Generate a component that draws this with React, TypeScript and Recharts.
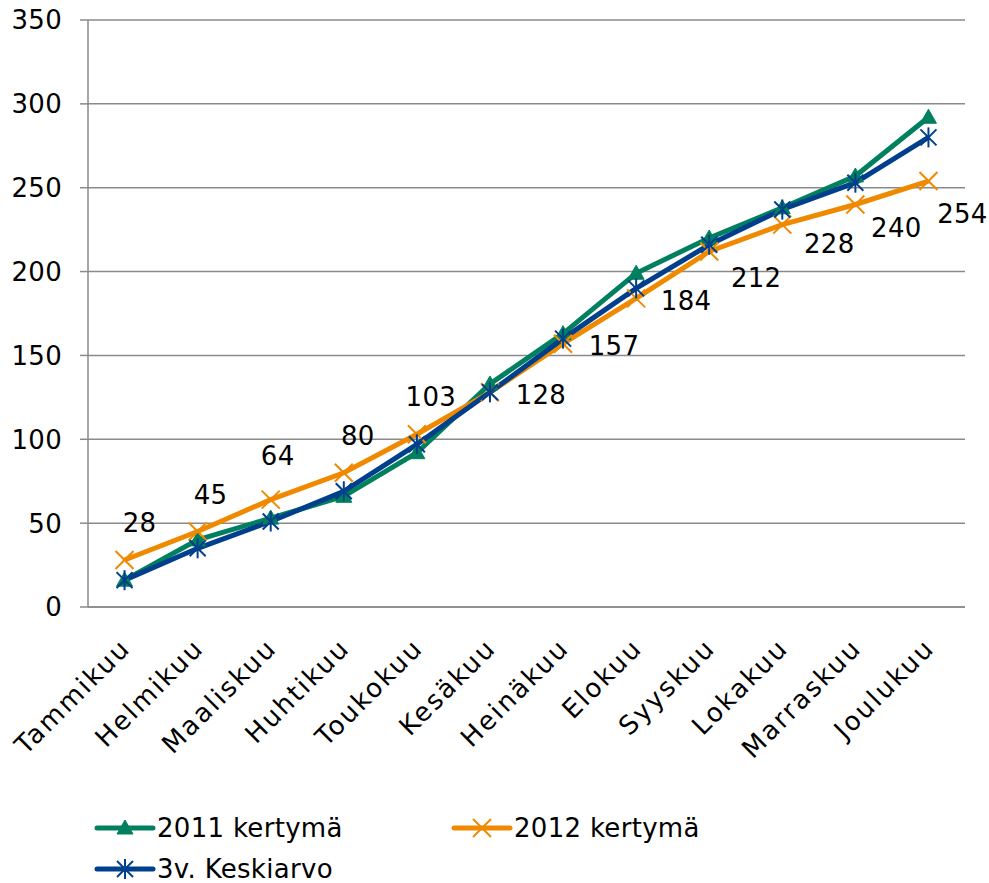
import React from 'react';
import { LineChart, Line, XAxis, YAxis, CartesianGrid, Legend, LabelList } from 'recharts';

const months = ['Tammikuu', 'Helmikuu', 'Maaliskuu', 'Huhtikuu', 'Toukokuu', 'Kesäkuu', 'Heinäkuu', 'Elokuu', 'Syyskuu', 'Lokakuu', 'Marraskuu', 'Joulukuu'];
const kertyma2011 = [16, 40, 53, 66, 92, 133, 163, 199, 220, 238, 257, 292];
const kertyma2012 = [28, 45, 64, 80, 103, 128, 157, 184, 212, 228, 240, 254];
const keskiarvo3v = [16, 35, 51, 69, 97, 128, 160, 190, 216, 237, 253, 280];
const yTicks = [0, 50, 100, 150, 200, 250, 300, 350];
const monthBoundaries = [0, 1, 2, 3, 4, 5, 6, 7, 8, 9, 10, 11, 12];
const seriesNames = ['2011 kertymä', '2012 kertymä', '3v. Keskiarvo'];

// label offsets (style only)
const labelDx = [15, 13, 7, 14, 14, 51, 51, 50, 47, 47, 41, 34];
const labelDy = [-37, -37, -44, -37, -38, 2, 2, 2, 26, 19, 23, 33];

const GREEN = '#00805E';
const ORANGE = '#EF8A00';
const BLUE = '#003F8C';
const GRID = '#8A8A8A';
const FONT = '"DejaVu Sans", Verdana, sans-serif';
const FS = 26;
const LS = 0.3;
const FS_X = 26;
const LS_X = 2.2;

const data = months.map((m, i) => ({
  month: m,
  k2011: kertyma2011[i],
  k2012: kertyma2012[i],
  avg: keskiarvo3v[i],
}));

const Tri = ({ cx, cy, color }: any) => (
  <polygon points={`${cx},${cy - 8} ${cx + 8},${cy + 6} ${cx - 8},${cy + 6}`} fill={color} stroke={color} strokeWidth={1} />
);
const Cross = ({ cx, cy, color }: any) => (
  <g stroke={color} strokeWidth={2}>
    <line x1={cx - 9} y1={cy - 9} x2={cx + 9} y2={cy + 9} />
    <line x1={cx - 9} y1={cy + 9} x2={cx + 9} y2={cy - 9} />
  </g>
);
const Star = ({ cx, cy, color }: any) => (
  <g stroke={color} strokeWidth={2}>
    <line x1={cx - 8} y1={cy - 8} x2={cx + 8} y2={cy + 8} />
    <line x1={cx - 8} y1={cy + 8} x2={cx + 8} y2={cy - 8} />
    <line x1={cx} y1={cy - 10} x2={cx} y2={cy + 10} />
  </g>
);

const XTick = ({ x, y, payload }: any) => (
  <g transform={`translate(${x + 2},${y + 37})`}>
    <text transform="rotate(-45)" textAnchor="end" dy="0.3em" fontFamily={FONT} fontSize={FS_X} letterSpacing={LS_X} fill="#000">
      {payload.value}
    </text>
  </g>
);

const YTick = ({ x, y, payload }: any) => (
  <text x={x} y={y} textAnchor="end" dy="0.36em" fontFamily={FONT} fontSize={FS} letterSpacing={LS} fill="#000">
    {payload.value}
  </text>
);

const renderLabel = (props: any) => {
  const { x, y, value, index } = props;
  return (
    <text key={`lbl-${index}`} x={x + labelDx[index]} y={y + labelDy[index]} textAnchor="middle" dy="0.36em" fontFamily={FONT} fontSize={FS} letterSpacing={LS} fill="#000">
      {value}
    </text>
  );
};

const LegendContent = () => {
  const items = [
    { name: seriesNames[0], color: GREEN, Marker: Tri, x: 97, y: 28 },
    { name: seriesNames[1], color: ORANGE, Marker: Cross, x: 454, y: 28 },
    { name: seriesNames[2], color: BLUE, Marker: Star, x: 97, y: 69 },
  ];
  return (
    <svg width={989} height={83} style={{ display: 'block' }}>
      {items.map((it) => (
        <g key={it.name}>
          <line x1={it.x} y1={it.y} x2={it.x + 56} y2={it.y} stroke={it.color} strokeWidth={5} strokeLinecap="round" />
          <it.Marker cx={it.x + 28} cy={it.y} color={it.color} />
          <text x={it.x + 60} y={it.y} dy="0.36em" fontFamily={FONT} fontSize={FS} letterSpacing={LS} fill="#000">
            {it.name}
          </text>
        </g>
      ))}
    </svg>
  );
};

export default function App() {
  return (
    <div style={{ position: 'absolute', left: 0, top: 0, width: 989, height: 883, background: '#fff' }}>
      <LineChart width={989} height={883} data={data} margin={{ top: 20, right: 24, bottom: 274, left: 0 }}>
        <CartesianGrid vertical={false} stroke={GRID} strokeWidth={1.5} />
        <XAxis
          xAxisId="bounds"
          type="number"
          domain={[0, 12]}
          ticks={monthBoundaries}
          tick={false}
          tickSize={8}
          tickLine={{ stroke: GRID, strokeWidth: 1.5 }}
          axisLine={false}
          height={1}
        />
        <XAxis
          dataKey="month"
          scale="band"
          interval={0}
          tickLine={false}
          tickSize={0}
          tickMargin={0}
          tick={<XTick />}
          axisLine={{ stroke: GRID, strokeWidth: 1.5 }}
          height={1}
        />
        <YAxis
          domain={[0, 350]}
          ticks={yTicks}
          width={88}
          tickSize={8}
          tickMargin={18}
          tick={<YTick />}
          tickLine={{ stroke: GRID, strokeWidth: 1.5 }}
          axisLine={{ stroke: GRID, strokeWidth: 1.5 }}
          interval={0}
        />
        <Legend
          verticalAlign="middle"
          align="center"
          layout="horizontal"
          wrapperStyle={{ top: 800, left: 0, width: 989, height: 83 }}
          content={<LegendContent />}
        />
        <Line
          type="linear"
          dataKey="k2011"
          name={seriesNames[0]}
          stroke={GREEN}
          strokeWidth={5}
          isAnimationActive={false}
          dot={(p: any) => <Tri key={`t-${p.index}`} cx={p.cx} cy={p.cy} color={GREEN} />}
          activeDot={false}
        />
        <Line
          type="linear"
          dataKey="k2012"
          name={seriesNames[1]}
          stroke={ORANGE}
          strokeWidth={5}
          isAnimationActive={false}
          dot={(p: any) => <Cross key={`c-${p.index}`} cx={p.cx} cy={p.cy} color={ORANGE} />}
          activeDot={false}
        >
          <LabelList dataKey="k2012" content={renderLabel} />
        </Line>
        <Line
          type="linear"
          dataKey="avg"
          name={seriesNames[2]}
          stroke={BLUE}
          strokeWidth={5}
          isAnimationActive={false}
          dot={(p: any) => <Star key={`s-${p.index}`} cx={p.cx} cy={p.cy} color={BLUE} />}
          activeDot={false}
        />
      </LineChart>
    </div>
  );
}
